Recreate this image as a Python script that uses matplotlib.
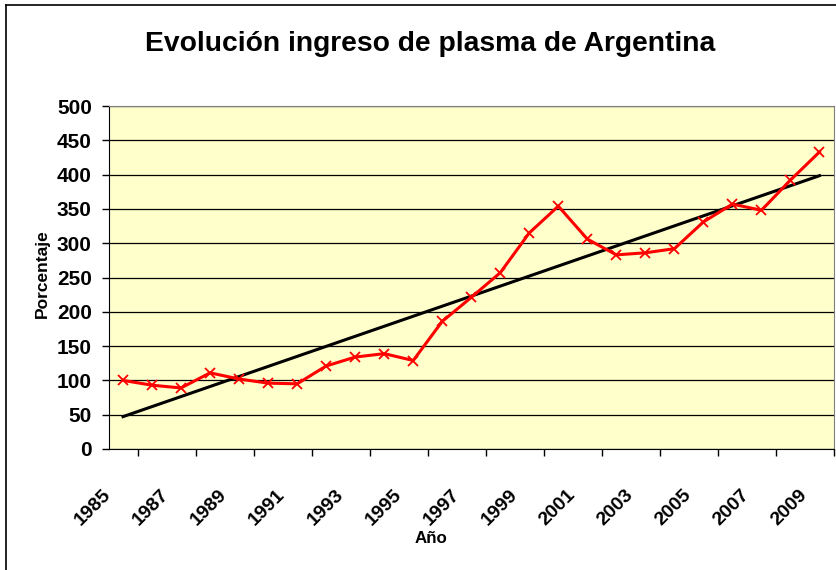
import numpy as np
import matplotlib.pyplot as plt
from matplotlib.lines import Line2D

plt.rcParams['font.family'] = ['Liberation Sans', 'DejaVu Sans']

# ---------- data ----------
years = np.arange(1985, 2010)
plasma = [100, 93, 89, 111, 102, 96, 95, 121, 134, 139, 129, 186, 221,
          257, 315, 354, 306, 283, 286, 292, 331, 357, 348, 392, 433]
year_labels = [str(y) for y in years[::2]]

# linear trendline, as Excel draws it
x = np.arange(len(years))
slope, inter = np.polyfit(x, plasma, 1)
trend = slope * x + inter

fig = plt.figure(figsize=(8.36, 5.70), dpi=100)
ax = fig.add_axes([108.5 / 836, 121 / 570, (834 - 108.5) / 836, (449 - 106) / 570])

ax.set_facecolor("#FFFFCC")
ax.plot(x, trend, color="black", lw=2.2, zorder=3)
ax.plot(x, plasma, color="red", lw=2.2, marker="x", ms=7, mew=1.3, zorder=4)

ax.set_xlim(-0.5, len(years) - 0.5)
ax.set_ylim(0, 500)
ax.set_yticks(range(0, 501, 50))
ax.yaxis.grid(True, color="black", lw=0.9)
ax.set_axisbelow(True)

# category axis: tick marks between categories, labels every other year
ax.set_xticks(x[::2] - 0.5)
ax.set_xticklabels(year_labels, rotation=45, ha="right", va="center",
                   rotation_mode="anchor", fontsize=14, fontweight="bold")
ax.set_xticks(np.arange(-0.5, len(years)), minor=True)
ax.tick_params(axis="x", which="major", length=0, pad=31)
ax.tick_params(axis="x", which="minor", length=5, width=1, color="black")
ax.tick_params(axis="y", length=5, width=1, labelsize=15, pad=7)
for t in ax.get_yticklabels():
    t.set_fontweight("bold")

for side in ["top", "right"]:
    ax.spines[side].set_color("#808080")
for side in ["left", "bottom"]:
    ax.spines[side].set_color("black")

ax.set_ylabel("Porcentaje", fontsize=12.5, fontweight="bold", va="center")
ax.yaxis.set_label_coords(-0.0917, 0.51)
ax.set_xlabel("Año", fontsize=12.2, fontweight="bold", va="center")
ax.xaxis.set_label_coords(0.4445, -0.2595)

fig.text(0.515, 1 - 50.6 / 570, "Evolución ingreso de plasma de Argentina",
         ha="center", va="baseline", fontsize=20.3, fontweight="bold")

# chart frame (left and top edges visible)
fig.add_artist(Line2D([5.5 / 836, 5.5 / 836], [0, 1 - 4.5 / 570], color="black", lw=1.2))
fig.add_artist(Line2D([5.5 / 836, 1], [1 - 4.5 / 570, 1 - 4.5 / 570], color="black", lw=1.2))

fig.savefig("out.png", dpi=100)
